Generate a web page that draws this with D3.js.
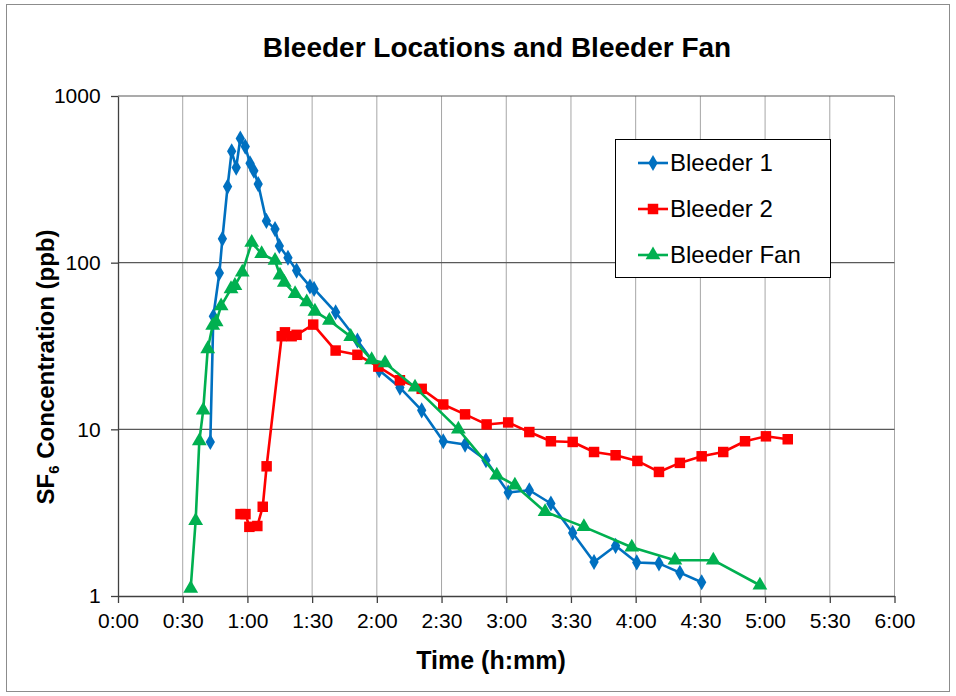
<!DOCTYPE html>
<html><head><meta charset="utf-8">
<script src="https://cdn.jsdelivr.net/npm/d3@7"></script>
<style>body{margin:0;background:#fff;} svg{display:block;font-family:"Liberation Sans",Arial,sans-serif;}</style>
</head><body><svg id="c" width="956" height="696"></svg>
<script>
// time in minutes, concentration in ppb
const b1Time = [42.8,44.2,47,48.4,50.8,52.7,54.8,56.7,59,61.2,63,65,68.8,72.8,74.8,78.8,82.8,89,90.9,100.9,111,121.1,130.7,140.8,150.8,160.9,170.6,180.9,190.7,200.7,210.8,220.7,230.7,240.5,250.8,260.5,270.6];
const b1Val  = [8.4,47.7,86.7,139,286,466,372,556,497,395,356,296,178,159,126,107,89.6,72,69.6,50.4,34.1,22.6,17.8,13,8.48,8.1,6.52,4.18,4.31,3.59,2.39,1.6,2.0,1.59,1.57,1.38,1.21];
const b2Time = [56.8,59.1,60.9,64.6,67.1,68.9,75.9,77.4,80.5,82.8,90.5,100.9,111,120.7,130.7,140.8,150.8,160.9,170.9,180.9,190.7,200.7,210.8,220.7,230.7,240.8,250.8,260.5,270.6,280.6,290.7,300.4,310.5];
const b2Val  = [3.1,3.1,2.6,2.63,3.43,6.0,36.2,38.2,36.2,36.9,42.5,29.7,28,23.8,19.7,17.5,14.1,12.3,10.7,11.0,9.63,8.48,8.4,7.31,6.99,6.46,5.55,6.29,6.89,7.31,8.48,9.08,8.72];
const fanTime = [33.7,36,37.7,39.5,41.6,43.9,45.5,47.8,52.4,54.2,57.6,62,66.6,72.8,75.1,77.1,82.1,87.5,91.3,98,107.9,117.6,123.8,137.7,157.8,175.6,184,198,216,238.2,258.2,276,297.6];
const fanVal  = [1.11,2.83,8.5,13,30.4,42,44,55,69.6,72.8,87.5,132,113,103,84,76,65,58,51,45,36,26.1,25,17.9,10,5.3,4.62,3.2,2.6,1.96,1.64,1.64,1.16];
const xTicks = [0,30,60,90,120,150,180,210,240,270,300,330,360];
const yTicks = [1,10,100,1000];
const seriesNames = ["Bleeder 1","Bleeder 2","Bleeder Fan"];
const seriesColors = ["#0070C0","#FF0000","#00B050"];

const svg = d3.select("#c");
const L=118, R=894.5, T=96, B=596;
const x = d3.scaleLinear().domain([0,360]).range([L,R]);
const y = d3.scaleLog().domain([1,1000]).range([B,T]);
const fmt = m => Math.floor(m/60)+":"+String(m%60).padStart(2,"0");

svg.append("rect").attr("x",6.5).attr("y",4.5).attr("width",943).attr("height",687)
  .attr("fill","#fff").attr("stroke","#8c8c8c").attr("stroke-width",1);

// grid
svg.append("g").selectAll("line").data(xTicks.slice(1)).join("line")
  .attr("x1",d=>x(d)).attr("x2",d=>x(d)).attr("y1",T).attr("y2",B)
  .attr("stroke","#a6a6a6").attr("stroke-width",1);
svg.append("g").selectAll("line").data(yTicks.slice(1)).join("line")
  .attr("x1",L).attr("x2",R).attr("y1",d=>y(d)).attr("y2",d=>y(d))
  .attr("stroke","#595959").attr("stroke-width",1.2);

// axes
const xa = svg.append("g").attr("transform",`translate(0,${B})`)
  .call(d3.axisBottom(x).tickValues(xTicks).tickFormat(fmt).tickSize(7).tickSizeOuter(0));
const ya = svg.append("g").attr("transform",`translate(${L},0)`)
  .call(d3.axisLeft(y).tickValues(yTicks).tickFormat(d3.format("d")).tickSize(7).tickSizeOuter(0));
[xa,ya].forEach(a=>{
  a.select(".domain").attr("stroke","#404040").attr("stroke-width",1.3);
  a.selectAll(".tick line").attr("stroke","#404040").attr("stroke-width",1.3);
  a.selectAll("text").attr("font-size",21).attr("font-family","Liberation Sans, Arial, sans-serif").attr("fill","#000");
});
xa.selectAll("text").attr("dy","1.05em");
ya.selectAll("text").attr("dx","-0.35em");

// title and axis labels
svg.append("text").attr("x",497).attr("y",57).attr("text-anchor","middle")
  .attr("font-size",28).attr("font-weight","bold").text("Bleeder Locations and Bleeder Fan");
svg.append("text").attr("x",491).attr("y",669).attr("text-anchor","middle")
  .attr("font-size",25).attr("font-weight","bold").text("Time (h:mm)");
const yl = svg.append("text").attr("transform","translate(54,367) rotate(-90)").attr("text-anchor","middle")
  .attr("font-size",24).attr("font-weight","bold");
yl.append("tspan").text("SF");
yl.append("tspan").attr("font-size",15).attr("dy",5).text("6");
yl.append("tspan").attr("dy",-5).text(" Concentration (ppb)");

// series
const data = [
  {t:b1Time,v:b1Val},{t:b2Time,v:b2Val},{t:fanTime,v:fanVal}
];
const sym = [d3.symbolDiamond, d3.symbolSquare, d3.symbolTriangle];
const symSize = [75, 110, 95];
const line = d3.line().x(d=>x(d[0])).y(d=>y(d[1]));
data.forEach((s,i)=>{
  const pts = s.t.map((t,j)=>[t,s.v[j]]);
  const g = svg.append("g");
  g.append("path").datum(pts).attr("d",line).attr("fill","none")
    .attr("stroke",seriesColors[i]).attr("stroke-width",2.6).attr("stroke-linejoin","round");
  g.selectAll("path.m").data(pts).join("path").attr("class","m")
    .attr("transform",d=>`translate(${x(d[0])},${y(d[1])})`)
    .attr("d",d3.symbol().type(sym[i]).size(symSize[i]))
    .attr("fill",seriesColors[i]);
});

// legend
const lg = svg.append("g");
lg.append("rect").attr("x",615.5).attr("y",139.5).attr("width",215).attr("height",138)
  .attr("fill","#fff").attr("stroke","#000").attr("stroke-width",1);
seriesNames.forEach((n,i)=>{
  const cy = 163 + i*46;
  lg.append("line").attr("x1",638).attr("x2",668).attr("y1",cy).attr("y2",cy)
    .attr("stroke",seriesColors[i]).attr("stroke-width",2.6);
  lg.append("path").attr("transform",`translate(653,${cy})`)
    .attr("d",d3.symbol().type(sym[i]).size(symSize[i])).attr("fill",seriesColors[i]);
  lg.append("text").attr("x",670).attr("y",cy).attr("dy","0.35em")
    .attr("font-size",24).text(n);
});
</script></body></html>
